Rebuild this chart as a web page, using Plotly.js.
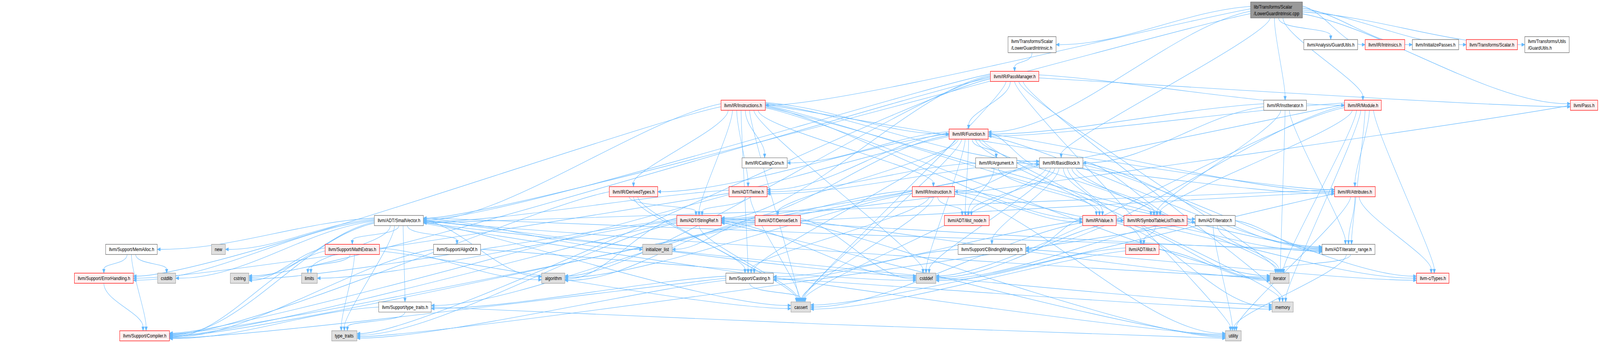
<!DOCTYPE html>
<html>
<head>
<meta charset="utf-8">
<script src="https://cdn.plot.ly/plotly-3.0.1.min.js"></script>
<style>
  html, body { margin: 0; padding: 0; background: #ffffff; overflow: hidden; }
  #graph { width: 5223px; height: 877px; transform-origin: 0 0; }
</style>
</head>
<body>
<div id="graph"></div>
<script>
// include graph of lib/Transforms/Scalar/LowerGuardIntrinsic.cpp

const nodeIds = [
  'cpp',
  'lgiH', 'guardA', 'intrinsics', 'initPasses', 'scalarH', 'guardU',
  'passMgr',
  'instructions', 'instIter', 'module', 'pass',
  'function',
  'callingConv', 'argument', 'basicBlock',
  'derivedTypes', 'twine', 'instruction', 'attributes',
  'smallVector', 'stringRef', 'denseSet', 'ilistNode', 'value', 'symTab', 'iteratorH',
  'memAlloc', 'newH', 'mathExtras', 'alignOf', 'initList', 'cbinding', 'ilist', 'iterRange',
  'errorHandling', 'cstdlib', 'cstring', 'limits', 'algorithm', 'casting', 'cstddef', 'iterator', 'cTypes',
  'typeTraitsH', 'cassert', 'memory',
  'compiler', 'typeTraits', 'utility'
];

const nodeLabels = [
  'lib/Transforms/Scalar\n/LowerGuardIntrinsic.cpp',
  'llvm/Transforms/Scalar\n/LowerGuardIntrinsic.h', 'llvm/Analysis/GuardUtils.h', 'llvm/IR/Intrinsics.h',
  'llvm/InitializePasses.h', 'llvm/Transforms/Scalar.h', 'llvm/Transforms/Utils\n/GuardUtils.h',
  'llvm/IR/PassManager.h',
  'llvm/IR/Instructions.h', 'llvm/IR/InstIterator.h', 'llvm/IR/Module.h', 'llvm/Pass.h',
  'llvm/IR/Function.h',
  'llvm/IR/CallingConv.h', 'llvm/IR/Argument.h', 'llvm/IR/BasicBlock.h',
  'llvm/IR/DerivedTypes.h', 'llvm/ADT/Twine.h', 'llvm/IR/Instruction.h', 'llvm/IR/Attributes.h',
  'llvm/ADT/SmallVector.h', 'llvm/ADT/StringRef.h', 'llvm/ADT/DenseSet.h', 'llvm/ADT/ilist_node.h',
  'llvm/IR/Value.h', 'llvm/IR/SymbolTableListTraits.h', 'llvm/ADT/iterator.h',
  'llvm/Support/MemAlloc.h', 'new', 'llvm/Support/MathExtras.h', 'llvm/Support/AlignOf.h',
  'initializer_list', 'llvm/Support/CBindingWrapping.h', 'llvm/ADT/ilist.h', 'llvm/ADT/iterator_range.h',
  'llvm/Support/ErrorHandling.h', 'cstdlib', 'cstring', 'limits', 'algorithm', 'llvm/Support/Casting.h',
  'cstddef', 'iterator', 'llvm-c/Types.h',
  'llvm/Support/type_traits.h', 'cassert', 'memory',
  'llvm/Support/Compiler.h', 'type_traits', 'utility'
];

// source = the file itself, header = fully shown, truncated = has hidden includes, system = std header
const nodeKinds = [
  'source',
  'header', 'header', 'truncated', 'header', 'truncated', 'header',
  'truncated',
  'truncated', 'header', 'truncated', 'truncated',
  'truncated',
  'header', 'header', 'header',
  'truncated', 'truncated', 'truncated', 'truncated',
  'header', 'truncated', 'truncated', 'truncated', 'truncated', 'truncated', 'header',
  'header', 'system', 'truncated', 'header', 'system', 'header', 'truncated', 'header',
  'truncated', 'system', 'system', 'system', 'system', 'header', 'system', 'system', 'truncated',
  'header', 'system', 'system',
  'truncated', 'system', 'system'
];

const nodeRanks = [
  0,
  1, 1, 1, 1, 1, 1,
  2,
  3, 3, 3, 3,
  4,
  5, 5, 5,
  6, 6, 6, 6,
  7, 7, 7, 7, 7, 7, 7,
  8, 8, 8, 8, 8, 8, 8, 8,
  9, 9, 9, 9, 9, 9, 9, 9, 9,
  10, 10, 10,
  11, 11, 11
];

const nodeX = [
  4167,
  3369, 4344, 4521, 4686, 4870, 5050,
  3312,
  2426, 4195, 4449, 5171,
  3162,
  2496, 3252, 3464,
  2068, 2442, 3047, 4423,
  1302, 2282, 2539, 3156, 3589, 3772, 3967,
  429, 713, 1150, 1492, 2146, 3238, 3729, 4402,
  339, 544, 782, 1010, 1806, 2447, 3023, 4177, 4677,
  1322, 2614, 4187,
  472, 1124, 4026
];

// includes: [file, included file]
const edgeList = [
  ['cpp', 'lgiH'], ['cpp', 'smallVector'], ['cpp', 'guardA'], ['cpp', 'basicBlock'], ['cpp', 'function'],
  ['cpp', 'instIter'], ['cpp', 'instructions'], ['cpp', 'intrinsics'], ['cpp', 'module'],
  ['cpp', 'initPasses'], ['cpp', 'pass'], ['cpp', 'scalarH'], ['cpp', 'guardU'],
  ['lgiH', 'passMgr'],
  ['passMgr', 'function'], ['passMgr', 'module'], ['passMgr', 'pass'], ['passMgr', 'smallVector'],
  ['passMgr', 'stringRef'], ['passMgr', 'algorithm'], ['passMgr', 'cassert'], ['passMgr', 'cstring'],
  ['passMgr', 'iterator'], ['passMgr', 'memory'], ['passMgr', 'typeTraits'], ['passMgr', 'utility'],
  ['instructions', 'smallVector'], ['instructions', 'stringRef'], ['instructions', 'twine'],
  ['instructions', 'iteratorH'], ['instructions', 'iterRange'], ['instructions', 'attributes'],
  ['instructions', 'basicBlock'], ['instructions', 'callingConv'], ['instructions', 'derivedTypes'],
  ['instructions', 'function'], ['instructions', 'instruction'], ['instructions', 'value'],
  ['instructions', 'casting'], ['instructions', 'errorHandling'], ['instructions', 'cassert'],
  ['instructions', 'cstddef'], ['instructions', 'iterator'],
  ['instIter', 'iterRange'], ['instIter', 'basicBlock'], ['instIter', 'function'],
  ['instIter', 'symTab'], ['instIter', 'iterator'],
  ['module', 'stringRef'], ['module', 'iterRange'], ['module', 'cTypes'], ['module', 'attributes'],
  ['module', 'function'], ['module', 'symTab'], ['module', 'cbinding'], ['module', 'cstddef'],
  ['module', 'iterator'], ['module', 'memory'],
  ['pass', 'stringRef'],
  ['function', 'denseSet'], ['function', 'stringRef'], ['function', 'twine'], ['function', 'ilistNode'],
  ['function', 'iterRange'], ['function', 'argument'], ['function', 'attributes'],
  ['function', 'basicBlock'], ['function', 'callingConv'], ['function', 'derivedTypes'],
  ['function', 'symTab'], ['function', 'value'], ['function', 'casting'], ['function', 'compiler'],
  ['function', 'cassert'], ['function', 'cstddef'], ['function', 'memory'],
  ['argument', 'twine'], ['argument', 'ilistNode'], ['argument', 'attributes'], ['argument', 'value'],
  ['basicBlock', 'twine'], ['basicBlock', 'ilist'], ['basicBlock', 'ilistNode'], ['basicBlock', 'iteratorH'],
  ['basicBlock', 'iterRange'], ['basicBlock', 'cTypes'], ['basicBlock', 'instruction'],
  ['basicBlock', 'symTab'], ['basicBlock', 'value'], ['basicBlock', 'cbinding'],
  ['basicBlock', 'compiler'], ['basicBlock', 'cassert'], ['basicBlock', 'cstddef'], ['basicBlock', 'iterator'],
  ['derivedTypes', 'stringRef'], ['derivedTypes', 'casting'], ['derivedTypes', 'compiler'],
  ['derivedTypes', 'cassert'],
  ['twine', 'smallVector'], ['twine', 'stringRef'], ['twine', 'errorHandling'], ['twine', 'cassert'],
  ['instruction', 'stringRef'], ['instruction', 'ilistNode'], ['instruction', 'symTab'],
  ['instruction', 'value'], ['instruction', 'casting'], ['instruction', 'algorithm'],
  ['instruction', 'cassert'], ['instruction', 'utility'],
  ['attributes', 'smallVector'], ['attributes', 'stringRef'], ['attributes', 'iterRange'],
  ['attributes', 'cTypes'], ['attributes', 'cassert'], ['attributes', 'utility'],
  ['smallVector', 'iterRange'], ['smallVector', 'alignOf'], ['smallVector', 'compiler'],
  ['smallVector', 'errorHandling'], ['smallVector', 'mathExtras'], ['smallVector', 'memAlloc'],
  ['smallVector', 'typeTraitsH'], ['smallVector', 'algorithm'], ['smallVector', 'cassert'],
  ['smallVector', 'cstddef'], ['smallVector', 'cstdlib'], ['smallVector', 'cstring'],
  ['smallVector', 'initList'], ['smallVector', 'iterator'], ['smallVector', 'limits'],
  ['smallVector', 'memory'], ['smallVector', 'newH'], ['smallVector', 'typeTraits'], ['smallVector', 'utility'],
  ['stringRef', 'iterRange'], ['stringRef', 'compiler'], ['stringRef', 'algorithm'], ['stringRef', 'cassert'],
  ['stringRef', 'cstddef'], ['stringRef', 'cstring'], ['stringRef', 'limits'], ['stringRef', 'typeTraits'],
  ['stringRef', 'utility'],
  ['denseSet', 'initList'], ['denseSet', 'algorithm'], ['denseSet', 'cstddef'], ['denseSet', 'compiler'],
  ['denseSet', 'typeTraitsH'], ['denseSet', 'iterator'], ['denseSet', 'utility'],
  ['value', 'iterRange'], ['value', 'cTypes'], ['value', 'cbinding'], ['value', 'casting'],
  ['value', 'cassert'], ['value', 'iterator'], ['value', 'memory'],
  ['symTab', 'ilist'], ['symTab', 'cstddef'],
  ['iteratorH', 'iterRange'], ['iteratorH', 'cstddef'], ['iteratorH', 'iterator'],
  ['iteratorH', 'typeTraits'], ['iteratorH', 'utility'],
  ['memAlloc', 'compiler'], ['memAlloc', 'errorHandling'], ['memAlloc', 'cstdlib'],
  ['mathExtras', 'compiler'], ['mathExtras', 'algorithm'], ['mathExtras', 'cassert'],
  ['mathExtras', 'cstring'], ['mathExtras', 'limits'], ['mathExtras', 'typeTraits'],
  ['alignOf', 'compiler'], ['alignOf', 'cstddef'],
  ['cbinding', 'cTypes'], ['cbinding', 'casting'],
  ['ilist', 'iterator'], ['ilist', 'cassert'], ['ilist', 'cstddef'],
  ['iterRange', 'iterator'], ['iterRange', 'utility'],
  ['errorHandling', 'compiler'],
  ['casting', 'compiler'], ['casting', 'typeTraitsH'], ['casting', 'cassert'], ['casting', 'memory'],
  ['casting', 'typeTraits'],
  ['typeTraitsH', 'compiler'], ['typeTraitsH', 'typeTraits'], ['typeTraitsH', 'utility']
];

// ---- geometry: laid out in the picture's own 5223 x 877 pixels ----
const W = 5223, H = 877;
const FONT = "'Liberation Sans', Arial, Helvetica, sans-serif";
const FONT_PX = 13.33;
const EDGE = '#63b8ff';
const kindStyle = {
  source:    { fill: '#999999', line: '#666666' },
  header:    { fill: '#ffffff', line: '#666666' },
  truncated: { fill: '#fff0f0', line: '#ff0000' },
  system:    { fill: '#e0e0e0', line: '#999999' }
};

const ctx = document.createElement('canvas').getContext('2d');
ctx.font = FONT_PX + "px 'Liberation Sans'";

const nodes = {};
nodeIds.forEach((id, i) => {
  const lines = nodeLabels[i].split('\n');
  const tw = Math.max(...lines.map(l => ctx.measureText(l).width));
  nodes[id] = { i, lines, w: tw + 21, h: 11 + 15 * lines.length, x: nodeX[i], rank: nodeRanks[i] };
});

// rank rows: each rank as tall as its tallest box, fixed gap between rows
const rankGap = 47.7;
const maxRank = Math.max(...nodeRanks);
const rankH = [];
for (let r = 0; r <= maxRank; r++) {
  rankH.push(Math.max(...nodeIds.filter(id => nodes[id].rank === r).map(id => nodes[id].h)));
}
const rankTop = [5];
for (let r = 1; r <= maxRank; r++) rankTop.push(rankTop[r - 1] + rankH[r - 1] + rankGap);
nodeIds.forEach(id => { const n = nodes[id]; n.y = rankTop[n.rank] + rankH[n.rank] / 2; });

// decide how every edge leaves and enters
const edges = edgeList.map(([a, b]) => {
  const s = nodes[a], t = nodes[b];
  const dx = t.x - s.x, dy = t.y - s.y;
  const side = Math.abs(dx) > 2.2 * dy + (s.w + t.w) / 2;
  return { s, t, dx, dy, side, dir: Math.sign(dx) || 1 };
});

// spread ports along box sides
function spread(list, key, sortKey) {
  list.sort((p, q) => sortKey(p) - sortKey(q));
  list.forEach((e, j) => { e[key] = (j + 0.5) / list.length - 0.5; });
}
nodeIds.forEach(id => {
  const n = nodes[id];
  spread(edges.filter(e => e.s === n && !e.side), 'outPos', e => e.t.x);
  spread(edges.filter(e => e.s === n && e.side && e.dir < 0), 'outPos', e => e.t.y);
  spread(edges.filter(e => e.s === n && e.side && e.dir > 0), 'outPos', e => e.t.y);
  spread(edges.filter(e => e.t === n && !e.side), 'inPos', e => e.s.x);
  spread(edges.filter(e => e.t === n && e.side && e.dir < 0), 'inPos', e => e.s.y);
  spread(edges.filter(e => e.t === n && e.side && e.dir > 0), 'inPos', e => e.s.y);
});

const shapes = [];
const ARROW_LEN = 10, ARROW_HALF = 4.2;
edges.forEach(e => {
  const { s, t, dy, dir } = e;
  let p0, p3, c1, c2;
  if (e.side) {
    p0 = [s.x + dir * s.w / 2, s.y + e.outPos * s.h * 0.6];
    p3 = [t.x - dir * t.w / 2, t.y + e.inPos * t.h * 0.6];
    const reach = Math.min(Math.abs(p3[0] - p0[0]) * 0.35, 260);
    c1 = [p0[0] + dir * reach, p0[1] + Math.min(dy * 0.15, 40)];
    c2 = [p3[0] - dir * reach, p3[1]];
  } else {
    const spanOut = Math.min(s.w * 0.8, 14 * edges.filter(q => q.s === s && !q.side).length);
    const spanIn = Math.min(t.w * 0.5, 10 * edges.filter(q => q.t === t && !q.side).length);
    p0 = [s.x + e.outPos * spanOut, s.y + s.h / 2];
    p3 = [t.x + e.inPos * spanIn, t.y - t.h / 2];
    const bend = Math.min(dy * 0.35, 45);
    c1 = [p0[0], p0[1] + bend];
    c2 = [p3[0], p3[1] - bend];
  }
  // arrow head along the final tangent
  let ux = p3[0] - c2[0], uy = p3[1] - c2[1];
  const L = Math.hypot(ux, uy) || 1;
  ux /= L; uy /= L;
  const bx = p3[0] - ux * ARROW_LEN, by = p3[1] - uy * ARROW_LEN;
  const px = -uy * ARROW_HALF, py = ux * ARROW_HALF;
  shapes.push({
    type: 'path', xref: 'x', yref: 'y', layer: 'below',
    path: `M${p0[0]},${p0[1]} C${c1[0]},${c1[1]} ${c2[0]},${c2[1]} ${bx},${by}`,
    line: { color: EDGE, width: 1.1 }
  });
  e.head = `M${p3[0]},${p3[1]} L${bx + px},${by + py} L${bx - px},${by - py} Z`;
});
edges.forEach(e => {
  shapes.push({
    type: 'path', xref: 'x', yref: 'y', layer: 'below',
    path: e.head, fillcolor: EDGE, line: { color: EDGE, width: 1 }
  });
});

const annotations = [];
nodeIds.forEach(id => {
  const n = nodes[id];
  const st = kindStyle[nodeKinds[n.i]];
  shapes.push({
    type: 'rect', xref: 'x', yref: 'y', layer: 'below',
    x0: n.x - n.w / 2, x1: n.x + n.w / 2, y0: n.y - n.h / 2, y1: n.y + n.h / 2,
    fillcolor: st.fill, line: { color: st.line, width: 1.2 }
  });
  annotations.push({
    x: n.x, y: n.y, xref: 'x', yref: 'y', xanchor: 'center', yanchor: 'middle',
    text: n.lines.join('<br>'), align: 'left', showarrow: false,
    font: { family: FONT, size: FONT_PX, color: '#000000' }
  });
});

const anchorTrace = {
  x: nodeIds.map(id => nodes[id].x),
  y: nodeIds.map(id => nodes[id].y),
  mode: 'markers', type: 'scatter',
  marker: { size: 1, opacity: 0 },
  hoverinfo: 'skip', showlegend: false
};

const gd = document.getElementById('graph');
Plotly.newPlot(gd, [anchorTrace], {
  width: W, height: H,
  margin: { l: 0, r: 0, t: 0, b: 0 },
  paper_bgcolor: '#ffffff', plot_bgcolor: '#ffffff',
  xaxis: { range: [0, W], visible: false, fixedrange: true },
  yaxis: { range: [H, 0], visible: false, fixedrange: true },
  shapes, annotations, showlegend: false
}, { staticPlot: true }).then(() => {
  // the window may be smaller than the picture; squeeze the finished drawing into it
  const vw = window.innerWidth || W, vh = window.innerHeight || H;
  gd.style.transform = `scale(${Math.min(1, vw / W)}, ${Math.min(1, vh / H)})`;
});
</script>
</body>
</html>
